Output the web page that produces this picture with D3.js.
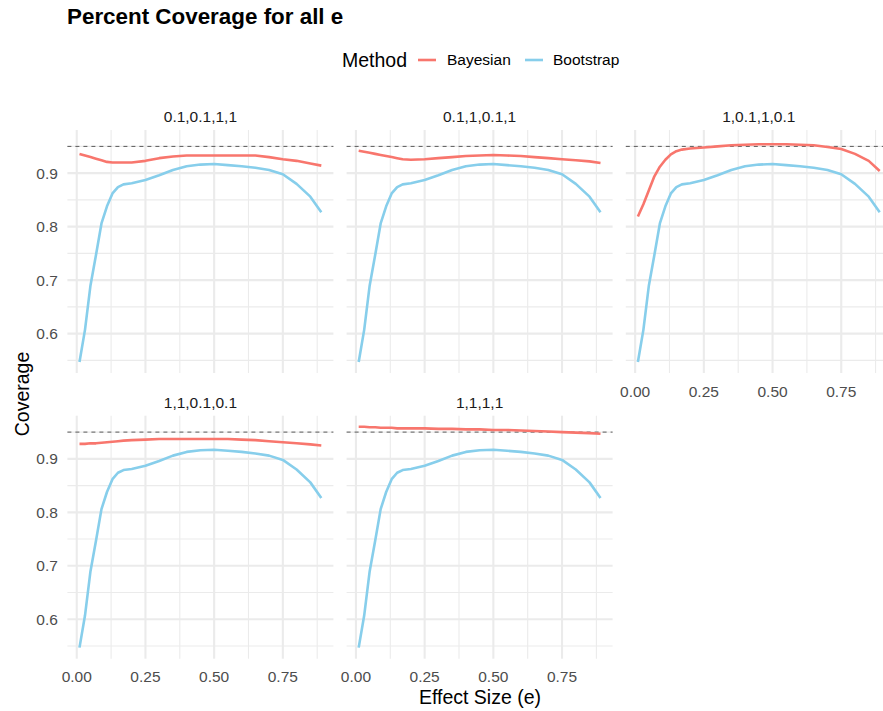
<!DOCTYPE html>
<html>
<head>
<meta charset="utf-8">
<script src="https://cdn.jsdelivr.net/npm/d3@7"></script>
<style>
  body { margin: 0; background: #fff; }
  svg { display: block; font-family: "Liberation Sans", Arial, sans-serif; }
</style>
</head>
<body>
<div id="chart"></div>
<script>
// ---------------- DATA ----------------
const effectSize = [0.01,0.03,0.05,0.07,0.09,0.11,0.13,0.15,0.17,0.20,0.25,0.30,0.35,0.40,0.45,0.50,0.55,0.60,0.65,0.70,0.75,0.80,0.85,0.89];

const facetLabels = ["0.1,0.1,1,1", "0.1,1,0.1,1", "1,0.1,1,0.1", "1,1,0.1,0.1", "1,1,1,1"];

const bootstrap = [0.547,0.607,0.690,0.747,0.806,0.838,0.862,0.874,0.879,0.881,0.887,0.896,0.906,0.913,0.916,0.917,0.915,0.913,0.910,0.906,0.898,0.880,0.856,0.827];

const bayes1 = [0.936,0.933,0.930,0.927,0.924,0.921,0.920,0.920,0.920,0.920,0.923,0.928,0.931,0.933,0.933,0.933,0.933,0.933,0.933,0.930,0.926,0.923,0.918,0.914];
const bayes2 = [0.942,0.940,0.938,0.936,0.934,0.932,0.930,0.928,0.926,0.925,0.926,0.928,0.930,0.932,0.933,0.934,0.933,0.932,0.930,0.928,0.926,0.924,0.922,0.919];
const bayes3 = [0.819,0.842,0.868,0.894,0.912,0.925,0.935,0.941,0.944,0.946,0.948,0.950,0.952,0.953,0.954,0.954,0.954,0.953,0.952,0.949,0.945,0.936,0.923,0.904];
const bayes4 = [0.928,0.928,0.929,0.929,0.930,0.931,0.932,0.933,0.934,0.935,0.936,0.937,0.937,0.937,0.937,0.937,0.937,0.936,0.935,0.933,0.931,0.929,0.927,0.925];
const bayes5 = [0.960,0.960,0.959,0.959,0.958,0.958,0.958,0.957,0.957,0.957,0.957,0.956,0.956,0.955,0.955,0.954,0.954,0.953,0.952,0.951,0.950,0.949,0.948,0.947];

const bayesSeries = [bayes1, bayes2, bayes3, bayes4, bayes5];
const methods = ["Bayesian", "Bootstrap"];
const methodColors = ["#F8766D", "#87CEEB"];
const refLine = 0.95;
const xTicks = [0, 0.25, 0.5, 0.75];
const xMinor = [0.125, 0.375, 0.625, 0.875];
const yTicks = [0.6, 0.7, 0.8, 0.9];
const yMinor = [0.55, 0.65, 0.75, 0.85, 0.95];

// ---------------- LAYOUT ----------------
const W = 883, H = 711;
const panelLefts = [67.4, 346.6, 625.8];
const panelW = 266;
const rowTops = [130, 415.7];
const panelH = 243;

const svg = d3.select("#chart").append("svg").attr("width", W).attr("height", H);

// scales (ggplot-like 5% expansion)
const xr = d3.extent(effectSize);
const xpad = (xr[1] - xr[0]) * 0.05;
const xDomain = [xr[0] - xpad, xr[1] + xpad];
const allY = bootstrap.concat(...bayesSeries, [refLine]);
const yr = d3.extent(allY);
const ypad = (yr[1] - yr[0]) * 0.05;
const yDomain = [yr[0] - ypad, yr[1] + ypad];

const fmtX = d3.format(".2f");
const fmtY = d3.format(".1f");

facetLabels.forEach((lab, i) => {
  const col = i % 3, row = Math.floor(i / 3);
  const L = panelLefts[col], T = rowTops[row];
  const x = d3.scaleLinear().domain(xDomain).range([L, L + panelW]);
  const y = d3.scaleLinear().domain(yDomain).range([T + panelH, T]);
  const g = svg.append("g");

  // minor grid
  g.selectAll(".vmin").data(xMinor).enter().append("line")
    .attr("x1", d => x(d)).attr("x2", d => x(d)).attr("y1", T).attr("y2", T + panelH)
    .attr("stroke", "#EBEBEB").attr("stroke-width", 1.1);
  g.selectAll(".hmin").data(yMinor).enter().append("line")
    .attr("x1", L).attr("x2", L + panelW).attr("y1", d => y(d)).attr("y2", d => y(d))
    .attr("stroke", "#EBEBEB").attr("stroke-width", 1.1);
  // major grid
  g.selectAll(".vmaj").data(xTicks).enter().append("line")
    .attr("x1", d => x(d)).attr("x2", d => x(d)).attr("y1", T).attr("y2", T + panelH)
    .attr("stroke", "#EBEBEB").attr("stroke-width", 2.1);
  g.selectAll(".hmaj").data(yTicks).enter().append("line")
    .attr("x1", L).attr("x2", L + panelW).attr("y1", d => y(d)).attr("y2", d => y(d))
    .attr("stroke", "#EBEBEB").attr("stroke-width", 2.1);

  // reference dashed line
  g.append("line")
    .attr("x1", L).attr("x2", L + panelW).attr("y1", y(refLine)).attr("y2", y(refLine))
    .attr("stroke", "#5a5a5a").attr("stroke-width", 1).attr("stroke-dasharray", "4,4");

  // lines
  const line = d3.line().x((d, k) => x(effectSize[k])).y(d => y(d));
  g.append("path").datum(bayesSeries[i]).attr("d", line)
    .attr("fill", "none").attr("stroke", methodColors[0]).attr("stroke-width", 2.6)
    .attr("stroke-linejoin", "round");
  g.append("path").datum(bootstrap).attr("d", line)
    .attr("fill", "none").attr("stroke", methodColors[1]).attr("stroke-width", 2.6)
    .attr("stroke-linejoin", "round");

  // strip label
  g.append("text").attr("x", L + panelW / 2).attr("y", T - 13.5)
    .attr("text-anchor", "middle").attr("dy", "0.35em")
    .attr("font-size", "15.5px").attr("fill", "#1A1A1A").text(lab);

  // y axis labels for first column
  if (col === 0) {
    g.selectAll(".yt").data(yTicks).enter().append("text")
      .attr("x", L - 9.5).attr("y", d => y(d)).attr("dy", "0.35em")
      .attr("text-anchor", "end").attr("font-size", "15.5px").attr("fill", "#4D4D4D")
      .text(d => fmtY(d));
  }
  // x axis labels for bottom panels
  if (row === 1 || i === 2) {
    g.selectAll(".xt").data(xTicks).enter().append("text")
      .attr("x", d => x(d)).attr("y", T + panelH + 18.3).attr("dy", "0.35em")
      .attr("text-anchor", "middle").attr("font-size", "15.5px").attr("fill", "#4D4D4D")
      .text(d => fmtX(d));
  }
});

// title
svg.append("text").attr("x", 67).attr("y", 24)
  .attr("font-size", "22.4px").attr("font-weight", "bold").attr("fill", "#000")
  .text("Percent Coverage for all e");

// legend
const legY = 60;
svg.append("text").attr("x", 342).attr("y", legY).attr("dy", "0.35em")
  .attr("font-size", "19.5px").attr("fill", "#000").text("Method");
const legItems = [{x: 418, tx: 447}, {x: 525, tx: 553}];
methods.forEach((m, k) => {
  svg.append("line").attr("x1", legItems[k].x).attr("x2", legItems[k].x + 18)
    .attr("y1", legY).attr("y2", legY)
    .attr("stroke", methodColors[k]).attr("stroke-width", 2.6);
  svg.append("text").attr("x", legItems[k].tx).attr("y", legY).attr("dy", "0.35em")
    .attr("font-size", "15.5px").attr("fill", "#000").text(m);
});

// axis titles
svg.append("text").attr("x", 480).attr("y", 697).attr("dy", "0.35em")
  .attr("text-anchor", "middle").attr("font-size", "19.5px").attr("fill", "#000")
  .text("Effect Size (e)");
svg.append("text").attr("transform", "translate(22,394) rotate(-90)").attr("dy", "0.35em")
  .attr("text-anchor", "middle").attr("font-size", "19.5px").attr("fill", "#000")
  .text("Coverage");
</script>
</body>
</html>
